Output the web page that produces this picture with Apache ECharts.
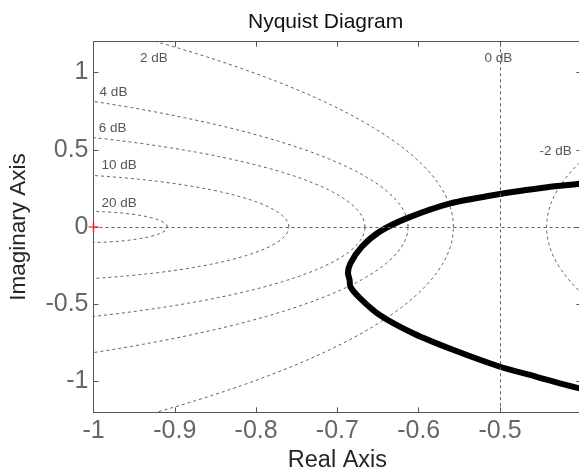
<!DOCTYPE html>
<html>
<head>
<meta charset="utf-8">
<script src="https://cdn.jsdelivr.net/npm/echarts@6/dist/echarts.min.js"></script>
<style>
  html, body { margin: 0; padding: 0; background: #fff; }
  #chart { width: 579px; height: 475px; }
</style>
</head>
<body>
<div id="chart"></div>
<script>
// Nyquist curve of the open loop (real, imaginary)
const nyqRe = [-0.39, -0.405, -0.442, -0.500, -0.561, -0.615, -0.648, -0.670, -0.684, -0.687, -0.685, -0.684,
               -0.672, -0.648, -0.607, -0.557, -0.500, -0.455, -0.406, -0.39];
const nyqIm = [0.287, 0.278, 0.257, 0.214, 0.153, 0.056, -0.030, -0.128, -0.235, -0.300, -0.343, -0.387,
               -0.462, -0.570, -0.688, -0.797, -0.905, -0.970, -1.040, -1.058];

// Constant closed-loop magnitude contours (dB)
const dbLevels = [20, 10, 6, 4, 2, -2, -4, -6, -10, -20];

// Contour labels and their anchor points
const gridLabels = ['2 dB', '4 dB', '6 dB', '10 dB', '20 dB', '0 dB', '-2 dB'];
const gridLabelRe = [-0.9256, -0.9754, -0.9764, -0.9686, -0.9686, -0.502, -0.4315];
const gridLabelIm = [1.0946, 0.871, 0.638, 0.398, 0.1535, 1.093, 0.488];

// Axis ranges and ticks
const xMin = -1, xMax = -0.4, xStep = 0.1;
const xLabelTicks = [-1, -0.9, -0.8, -0.7, -0.6, -0.5];
const yMin = -1.2, yMax = 1.2;
const yTicks = [-1, -0.5, 0, 0.5, 1];

const FONT = 'Liberation Sans, Arial, Helvetica, sans-serif';
const gridLine = { color: '#606060', width: 1, type: [3, 3] };

// |T| = M circle: centre -M^2/(M^2-1), radius M/|M^2-1|
function mCircle(db) {
  const m = Math.pow(10, db / 20);
  const m2 = m * m;
  const c = -m2 / (m2 - 1);
  const r = m / Math.abs(m2 - 1);
  const pts = [];
  for (let i = 0; i <= 720; i++) {
    const t = (i / 720) * 2 * Math.PI;
    pts.push([c + r * Math.cos(t), r * Math.sin(t)]);
  }
  return pts;
}

const series = [];
dbLevels.forEach(db => {
  series.push({
    type: 'line', data: mCircle(db), showSymbol: false, silent: true, clip: true,
    lineStyle: gridLine, z: 1
  });
});

// real axis and the 0 dB line (Re = -1/2)
series.push({
  type: 'line', data: [], silent: true,
  markLine: {
    silent: true, symbol: 'none', label: { show: false },
    lineStyle: gridLine,
    data: [{ yAxis: 0 }, { xAxis: -0.5 }]
  }
});

// contour labels
series.push({
  type: 'scatter', silent: true, symbolSize: 0, clip: false, z: 3,
  data: gridLabels.map((t, i) => ({ name: t, value: [gridLabelRe[i], gridLabelIm[i]] })),
  label: {
    show: true, position: 'inside', formatter: '{b}',
    fontFamily: FONT, fontSize: 13.5, color: '#2a2a2a'
  }
});

// Nyquist curve
series.push({
  type: 'line', data: nyqRe.map((x, i) => [x, nyqIm[i]]),
  showSymbol: false, clip: true, silent: true, z: 4, smooth: 0.25,
  lineStyle: { color: '#000', width: 6, join: 'round', cap: 'round' }
});

// critical point -1 + j0
series.push({
  type: 'scatter', data: [[-1, 0]], clip: false, silent: true, z: 10,
  symbol: 'path://M0,4.2h10v1.6h-10z M4.2,0h1.6v10h-1.6z', symbolSize: 10,
  itemStyle: { color: '#ff1a1a' }
});

const axisLineStyle = { onZero: false, lineStyle: { color: '#555', width: 1 } };
const tickStyle = { show: true, inside: true, length: 5, lineStyle: { color: '#555', width: 1 } };

const option = {
  animation: false,
  backgroundColor: '#fff',
  title: {
    text: 'Nyquist Diagram', left: 243, top: 7,
    textStyle: { fontFamily: FONT, fontSize: 21, fontWeight: 'normal', color: '#111' }
  },
  grid: { left: 93.5, top: 41.7, width: 487.8, height: 370.6, containLabel: false, outerBoundsMode: 'none' },
  xAxis: [
    {
      type: 'value', min: xMin, max: xMax, interval: xStep, position: 'bottom',
      name: 'Real Axis', nameLocation: 'middle', nameGap: 34,
      nameTextStyle: { fontFamily: FONT, fontSize: 23.5, color: '#262626' },
      axisLine: axisLineStyle, axisTick: tickStyle, splitLine: { show: false },
      axisLabel: {
        fontFamily: FONT, fontSize: 25, color: '#666', margin: 6,
        customValues: xLabelTicks,
        formatter: v => String(Math.round(v * 10) / 10)
      }
    },
    {
      type: 'value', min: xMin, max: xMax, interval: xStep, position: 'top',
      axisLine: axisLineStyle, axisTick: tickStyle, splitLine: { show: false },
      axisLabel: { show: false }
    }
  ],
  yAxis: [
    {
      type: 'value', min: yMin, max: yMax, position: 'left',
      name: 'Imaginary Axis', nameLocation: 'middle', nameGap: 63,
      nameTextStyle: { fontFamily: FONT, fontSize: 22.5, color: '#262626' },
      axisLine: axisLineStyle, axisTick: { ...tickStyle, customValues: yTicks },
      splitLine: { show: false },
      axisLabel: {
        fontFamily: FONT, fontSize: 25, color: '#666', margin: 5,
        customValues: yTicks, formatter: v => String(v)
      }
    },
    {
      type: 'value', min: yMin, max: yMax, position: 'right',
      axisLine: axisLineStyle, axisTick: { ...tickStyle, customValues: yTicks },
      splitLine: { show: false }, axisLabel: { show: false }
    }
  ],
  series: series
};

const chart = echarts.init(document.getElementById('chart'), null, { renderer: 'canvas' });
chart.setOption(option);
</script>
</body>
</html>
